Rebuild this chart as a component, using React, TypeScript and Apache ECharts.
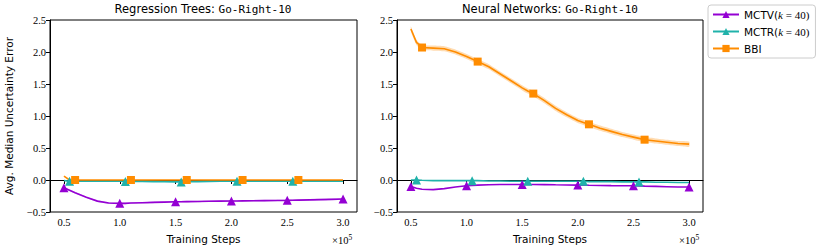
import React, { useEffect, useRef } from "react";
import * as echarts from "echarts";

// ---- data ----
const STEPS = [0.5, 0.55, 0.6, 0.7, 0.8, 0.9, 1.0, 1.05, 1.1, 1.2, 1.3, 1.4, 1.5, 1.55, 1.6, 1.7, 1.8, 1.9, 2.0, 2.05, 2.1, 2.2, 2.3, 2.4, 2.5, 2.55, 2.6, 2.7, 2.8, 2.9, 3.0];
const X_TICKS = [0.5, 1.0, 1.5, 2.0, 2.5, 3.0];

const MARK_MCTV = [0.5, 1.0, 1.5, 2.0, 2.5, 3.0];
const MARK_MCTR = [0.55, 1.05, 1.55, 2.05, 2.55];
const MARK_BBI = [0.6, 1.1, 1.6, 2.1, 2.6];

// Regression Trees
const RT_MCTV = [-0.12, -0.16, -0.2, -0.27, -0.33, -0.36, -0.365, -0.365, -0.36, -0.355, -0.35, -0.345, -0.34, -0.34, -0.338, -0.335, -0.332, -0.33, -0.328, -0.327, -0.326, -0.324, -0.322, -0.32, -0.318, -0.316, -0.314, -0.31, -0.306, -0.302, -0.298];
const RT_MCTR = [-0.01, -0.02, -0.02, -0.02, -0.02, -0.02, -0.02, -0.022, -0.022, -0.022, -0.025, -0.028, -0.03, -0.03, -0.028, -0.025, -0.022, -0.02, -0.02, -0.02, -0.02, -0.02, -0.02, -0.02, -0.02, -0.02, -0.02, -0.02, -0.02, -0.02, -0.02];
const RT_BBI = [0.06, 0.0, 0.0, 0.0, 0.0, 0.0, 0.0, 0.0, 0.0, 0.0, 0.0, 0.0, 0.0, 0.0, 0.0, 0.0, 0.0, 0.0, 0.0, 0.0, 0.0, 0.0, 0.0, 0.0, 0.0, 0.0, 0.0, 0.0, 0.0, 0.0, 0.0];

// Neural Networks
const NN_MCTV = [-0.1, -0.13, -0.145, -0.15, -0.135, -0.11, -0.09, -0.085, -0.08, -0.075, -0.07, -0.07, -0.07, -0.07, -0.07, -0.072, -0.075, -0.077, -0.08, -0.08, -0.082, -0.085, -0.088, -0.09, -0.09, -0.092, -0.095, -0.1, -0.105, -0.11, -0.11];
const NN_MCTR = [0.0, 0.0, -0.005, -0.01, -0.01, -0.01, -0.01, -0.01, -0.01, -0.015, -0.015, -0.02, -0.02, -0.02, -0.02, -0.02, -0.02, -0.02, -0.02, -0.02, -0.025, -0.025, -0.025, -0.03, -0.03, -0.03, -0.03, -0.035, -0.035, -0.04, -0.04];
const NN_BBI = [2.36, 2.15, 2.07, 2.06, 2.05, 2.0, 1.93, 1.89, 1.85, 1.77, 1.66, 1.55, 1.44, 1.39, 1.35, 1.24, 1.12, 1.02, 0.93, 0.9, 0.87, 0.81, 0.76, 0.71, 0.67, 0.65, 0.63, 0.61, 0.59, 0.57, 0.56];
const NN_BBI_HALF_BAND = 0.04;
const RT_MCTV_HALF_BAND = 0.012;

const C_MCTV = "#9400D3";
const C_MCTR = "#20B2AA";
const C_BBI = "#FF8C00";

const SERIF = "'Liberation Serif', 'DejaVu Serif', serif";
const SANS = "'DejaVu Sans', 'Liberation Sans', sans-serif";
const MONO = "'DejaVu Sans Mono', 'Liberation Mono', monospace";

function fmt(v: number) {
  const s = Math.abs(v).toFixed(1);
  return v < 0 ? "\u2212" + s : s;
}

function lineSeries(name: string, ys: number[], marks: number[], color: string, symbol: string, gi: number) {
  return {
    name,
    type: "line",
    xAxisIndex: gi,
    yAxisIndex: gi,
    symbol,
    symbolSize: symbol === "rect" ? 8 : 9,
    showSymbol: true,
    showAllSymbol: true,
    lineStyle: { width: 1.6, color },
    itemStyle: { color },
    data: STEPS.map((x, i) => ({
      value: [x, ys[i]],
      symbol: marks.some((m) => Math.abs(m - x) < 1e-9) ? symbol : "none",
    })),
    emphasis: { disabled: true },
    z: 3,
  };
}

function bandSeries(ys: number[], half: number, color: string, gi: number) {
  return {
    name: "band" + gi + color,
    type: "custom",
    xAxisIndex: gi,
    yAxisIndex: gi,
    data: STEPS.map((x, i) => [x, ys[i] - half, ys[i] + half]),
    renderItem: (params: any, api: any) => {
      if (params.dataIndex !== 0) return null;
      const up: number[][] = [];
      const lo: number[][] = [];
      for (let i = 0; i < STEPS.length; i++) {
        up.push(api.coord([STEPS[i], ys[i] + half]));
        lo.push(api.coord([STEPS[i], ys[i] - half]));
      }
      return {
        type: "polygon",
        shape: { points: up.concat(lo.reverse()), smooth: 0.2 },
        style: { fill: color, stroke: "none" },
        silent: true,
      };
    },
    z: 1,
    silent: true,
  };
}

function makeXAxis(gi: number) {
  return {
    type: "value",
    gridIndex: gi,
    min: 0.375,
    max: 3.125,
    name: "Training Steps",
    nameLocation: "middle",
    nameGap: 21,
    nameTextStyle: { fontFamily: SANS, fontSize: 10.5, color: "#000" },
    axisLine: { show: true, lineStyle: { color: "#000", width: 1 } },
    axisTick: { show: true, inside: false, length: 4, lineStyle: { color: "#000" }, customValues: X_TICKS },
    axisLabel: { fontFamily: SERIF, fontSize: 10.5, color: "#000", margin: 5, customValues: X_TICKS, formatter: (v: number) => fmt(v) },
    splitLine: { show: false },
  };
}

function makeYAxis(gi: number) {
  return {
    type: "value",
    gridIndex: gi,
    min: -0.5,
    max: 2.5,
    interval: 0.5,
    name: gi === 0 ? "Avg. Median Uncertainty Error" : "",
    nameLocation: "middle",
    nameGap: 36,
    nameTextStyle: { fontFamily: SANS, fontSize: 10.5, color: "#000" },
    axisLine: { show: true, lineStyle: { color: "#000", width: 1 } },
    axisTick: { show: true, inside: false, length: 4, lineStyle: { color: "#000" } },
    axisLabel: { fontFamily: SERIF, fontSize: 10.5, color: "#000", margin: 4, formatter: (v: number) => fmt(v) },
    splitLine: { show: false },
  };
}

export default function App() {
  const ref = useRef<HTMLDivElement>(null);
  useEffect(() => {
    if (!ref.current) return;
    const chart = echarts.init(ref.current, undefined, { renderer: "svg" });
    const option: any = {
      animation: false,
      backgroundColor: "#fff",
      grid: [
        { left: 50, top: 20, width: 307, height: 192, show: true, borderColor: "#000", borderWidth: 1, backgroundColor: "transparent" },
        { left: 397, top: 20, width: 306, height: 192, show: true, borderColor: "#000", borderWidth: 1, backgroundColor: "transparent" },
      ],
      xAxis: [makeXAxis(0), makeXAxis(1)],
      yAxis: [makeYAxis(0), makeYAxis(1)],
      legend: {
        data: ["MCTV(k = 40)", "MCTR(k = 40)", "BBI"],
        orient: "vertical",
        left: 708,
        top: 5,
        itemWidth: 26,
        itemHeight: 9,
        itemGap: 6,
        padding: [4, 6, 4, 4],
        borderColor: "#ccc",
        borderWidth: 1,
        borderRadius: 3,
        backgroundColor: "#fff",
        selectedMode: false,
        formatter: (name: string) => {
          if (name === "BBI") return "{t|BBI}";
          const base = name.slice(0, 4);
          return "{t|" + base + "(}{i|k}{s| = 40)}";
        },
        textStyle: {
          color: "#000",
          rich: {
            t: { fontFamily: SANS, fontSize: 10.5, color: "#000" },
            i: { fontFamily: SERIF, fontStyle: "italic", fontSize: 11, color: "#000" },
            s: { fontFamily: SERIF, fontSize: 11, color: "#000" },
          },
        },
      },
      graphic: [
        {
          type: "text",
          x: 203,
          y: 9,
          style: {
            text: "{a|Regression Trees: }{m|Go-Right-10}",
            align: "center",
            verticalAlign: "middle",
            rich: {
              a: { fontFamily: SANS, fontSize: 11.5, fill: "#000" },
              m: { fontFamily: MONO, fontSize: 11, fill: "#000" },
            },
          },
        },
        {
          type: "text",
          x: 550,
          y: 9,
          style: {
            text: "{a|Neural Networks: }{m|Go-Right-10}",
            align: "center",
            verticalAlign: "middle",
            rich: {
              a: { fontFamily: SANS, fontSize: 11.5, fill: "#000" },
              m: { fontFamily: MONO, fontSize: 11, fill: "#000" },
            },
          },
        },
        {
          type: "text",
          x: 332,
          y: 240,
          style: {
            text: "{a|\u00d710}{b|5}",
            verticalAlign: "middle",
            rich: { a: { fontFamily: SERIF, fontSize: 10.5, fill: "#000" }, b: { fontFamily: SERIF, fontSize: 7.5, fill: "#000", verticalAlign: "top", padding: [0, 0, 6, 0] } },
          },
        },
        {
          type: "text",
          x: 679,
          y: 240,
          style: {
            text: "{a|\u00d710}{b|5}",
            verticalAlign: "middle",
            rich: { a: { fontFamily: SERIF, fontSize: 10.5, fill: "#000" }, b: { fontFamily: SERIF, fontSize: 7.5, fill: "#000", verticalAlign: "top", padding: [0, 0, 6, 0] } },
          },
        },
      ],
      series: [
        bandSeries(RT_MCTV, RT_MCTV_HALF_BAND, "rgba(148,0,211,0.25)", 0),
        lineSeries("MCTV(k = 40)", RT_MCTV, MARK_MCTV, C_MCTV, "triangle", 0),
        lineSeries("MCTR(k = 40)", RT_MCTR, MARK_MCTR, C_MCTR, "triangle", 0),
        lineSeries("BBI", RT_BBI, MARK_BBI, C_BBI, "rect", 0),
        bandSeries(NN_BBI, NN_BBI_HALF_BAND, "rgba(255,140,0,0.3)", 1),
        lineSeries("MCTV(k = 40)", NN_MCTV, MARK_MCTV, C_MCTV, "triangle", 1),
        lineSeries("MCTR(k = 40)", NN_MCTR, MARK_MCTR, C_MCTR, "triangle", 1),
        lineSeries("BBI", NN_BBI, MARK_BBI, C_BBI, "rect", 1),
      ],
    };
    chart.setOption(option);
    return () => chart.dispose();
  }, []);
  return <div ref={ref} style={{ width: 830, height: 249, position: "absolute", left: 0, top: 0 }} />;
}
